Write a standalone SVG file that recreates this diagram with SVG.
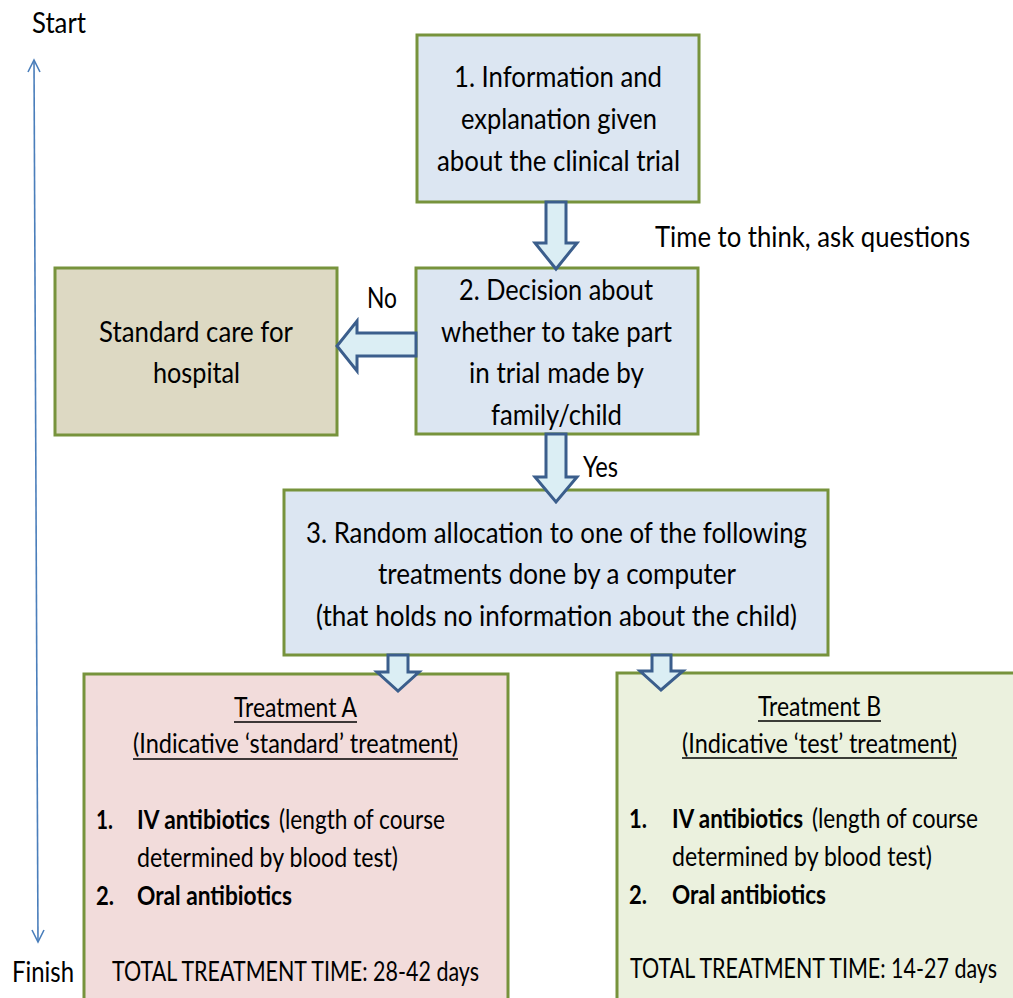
<svg xmlns="http://www.w3.org/2000/svg" width="1013" height="998" viewBox="0 0 1013 998">
<style>
.box{stroke:#77933c;stroke-width:3}
.t{font-family:Lato,"Liberation Sans",sans-serif;font-size:29px;fill:#000}
.s{font-family:Lato,"Liberation Sans",sans-serif;font-size:26px;fill:#000}
.b{font-weight:bold}
.arr{fill:#dbeef4;stroke:#3b5e8c;stroke-width:3;stroke-linejoin:miter}
.ul{stroke:#000;stroke-width:1.5}
.tl{stroke:#4a7ebb;stroke-width:1.6;fill:none}
</style>
<rect width="1013" height="998" fill="#fff"/>
<g id="timeline">
<line class="tl" x1="34" y1="60" x2="38" y2="942"/>
<polyline class="tl" points="28,72 34,60 40,72"/>
<polyline class="tl" points="32,930 38,942 44,930"/>
<text class="t" x="32" y="33" textLength="54" lengthAdjust="spacingAndGlyphs">Start</text>
<text class="t" x="12" y="982" textLength="62" lengthAdjust="spacingAndGlyphs">Finish</text>
</g>
<g id="node1">
<rect class="box" x="417" y="35" width="282" height="167" fill="#dce6f2"/>
<text class="t" x="454" y="87" textLength="208" lengthAdjust="spacingAndGlyphs">1. Information and</text>
<text class="t" x="461" y="129" textLength="196" lengthAdjust="spacingAndGlyphs">explanation given</text>
<text class="t" x="437" y="171" textLength="243" lengthAdjust="spacingAndGlyphs">about the clinical trial</text>
</g>
<g id="node2">
<rect class="box" x="416" y="268" width="282" height="166" fill="#dce6f2"/>
<text class="t" x="459" y="300" textLength="194" lengthAdjust="spacingAndGlyphs">2. Decision about</text>
<text class="t" x="441" y="342" textLength="231" lengthAdjust="spacingAndGlyphs">whether to take part</text>
<text class="t" x="469" y="383" textLength="175" lengthAdjust="spacingAndGlyphs">in trial made by</text>
<text class="t" x="491" y="425" textLength="131" lengthAdjust="spacingAndGlyphs">family/child</text>
</g>
<g id="standard">
<rect class="box" x="55" y="268" width="282" height="167" fill="#ddd9c3"/>
<text class="t" x="99" y="342" textLength="194" lengthAdjust="spacingAndGlyphs">Standard care for</text>
<text class="t" x="153" y="383" textLength="87" lengthAdjust="spacingAndGlyphs">hospital</text>
</g>
<g id="node3">
<rect class="box" x="284" y="490" width="544" height="165" fill="#dce6f2"/>
<text class="t" x="306" y="543" textLength="501" lengthAdjust="spacingAndGlyphs">3. Random allocation to one of the following</text>
<text class="t" x="378" y="584" textLength="358" lengthAdjust="spacingAndGlyphs">treatments done by a computer</text>
<text class="t" x="316" y="626" textLength="481" lengthAdjust="spacingAndGlyphs">(that holds no information about the child)</text>
</g>
<g id="treatmentA">
<rect class="box" x="84" y="674" width="424" height="340" fill="#f2dcdb"/>
<text class="s" x="234" y="717" textLength="123" lengthAdjust="spacingAndGlyphs">Treatment A</text>
<line class="ul" x1="234" y1="722" x2="357" y2="722"/>
<text class="s" x="133" y="753" textLength="325" lengthAdjust="spacingAndGlyphs">(Indicative ‘standard’ treatment)</text>
<line class="ul" x1="133" y1="759" x2="458" y2="759"/>
<text class="s b" x="96" y="829" textLength="17" lengthAdjust="spacingAndGlyphs">1.</text>
<text class="s b" x="137" y="829" textLength="133" lengthAdjust="spacingAndGlyphs">IV antibiotics</text>
<text class="s" x="279" y="829" textLength="166" lengthAdjust="spacingAndGlyphs">(length of course</text>
<text class="s" x="137" y="867" textLength="261" lengthAdjust="spacingAndGlyphs">determined by blood test)</text>
<text class="s b" x="96" y="905" textLength="18" lengthAdjust="spacingAndGlyphs">2.</text>
<text class="s b" x="137" y="905" textLength="155" lengthAdjust="spacingAndGlyphs">Oral antibiotics</text>
<text class="s" x="112" y="981" textLength="367" lengthAdjust="spacingAndGlyphs">TOTAL TREATMENT TIME: 28-42 days</text>
</g>
<g id="treatmentB">
<rect class="box" x="617" y="673" width="420" height="340" fill="#ebf1de"/>
<text class="s" x="758" y="716" textLength="123" lengthAdjust="spacingAndGlyphs">Treatment B</text>
<line class="ul" x1="758" y1="721" x2="881" y2="721"/>
<text class="s" x="682" y="753" textLength="275" lengthAdjust="spacingAndGlyphs">(Indicative ‘test’ treatment)</text>
<line class="ul" x1="682" y1="758" x2="957" y2="758"/>
<text class="s b" x="629" y="828" textLength="18" lengthAdjust="spacingAndGlyphs">1.</text>
<text class="s b" x="672" y="828" textLength="131" lengthAdjust="spacingAndGlyphs">IV antibiotics</text>
<text class="s" x="812" y="828" textLength="166" lengthAdjust="spacingAndGlyphs">(length of course</text>
<text class="s" x="672" y="866" textLength="260" lengthAdjust="spacingAndGlyphs">determined by blood test)</text>
<text class="s b" x="629" y="904" textLength="18" lengthAdjust="spacingAndGlyphs">2.</text>
<text class="s b" x="672" y="904" textLength="154" lengthAdjust="spacingAndGlyphs">Oral antibiotics</text>
<text class="s" x="630" y="978" textLength="367" lengthAdjust="spacingAndGlyphs">TOTAL TREATMENT TIME: 14-27 days</text>
</g>
<g id="connectors">
<polygon class="arr" points="546,202 566,202 566,243 577,243 556,269 535,243 546,243"/>
<polygon class="arr" points="546,434 566,434 566,477 577,477 556,502 535,477 546,477"/>
<polygon class="arr" points="416,333 357,333 357,321 337,346 357,371 357,356 416,356"/>
<polygon class="arr" points="388,655 408,655 408,672 419,672 398,691 377,672 388,672"/>
<polygon class="arr" points="652,655 671,655 671,671 683,671 661,690 640,671 652,671"/>
<text class="t" x="655" y="247" textLength="315" lengthAdjust="spacingAndGlyphs">Time to think, ask questions</text>
<text class="t" x="367" y="308" textLength="30" lengthAdjust="spacingAndGlyphs">No</text>
<text class="t" x="583" y="477" textLength="35" lengthAdjust="spacingAndGlyphs">Yes</text>
</g>
</svg>
